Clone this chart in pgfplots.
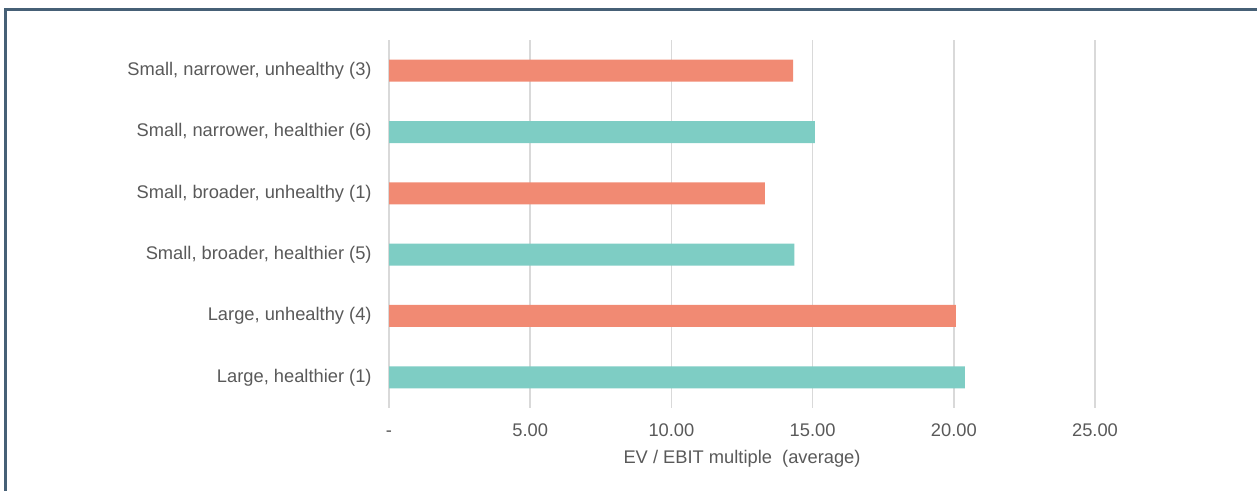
\documentclass[border=0pt]{standalone}
\usepackage{fontspec}
\setmainfont{Liberation Sans}
\usepackage{pgfplots}
\pgfplotsset{compat=1.18}
\definecolor{salmon}{RGB}{241,138,115}
\definecolor{teal2}{RGB}{126,205,196}
\definecolor{gridgray}{RGB}{217,217,217}
\definecolor{txtgray}{RGB}{89,89,89}
\definecolor{frame}{RGB}{70,96,118}
\begin{document}
\begin{tikzpicture}
\useasboundingbox (0,0) rectangle (628.5pt,245.5pt);
\draw[frame, line width=1.4pt] (2.75pt,-1pt) -- (2.75pt,240.65pt) -- (630pt,240.65pt);
\begin{axis}[
  at={(194.5pt,41.5pt)}, anchor=south west,
  scale only axis, width=353pt, height=184pt,
  xmin=0, xmax=25, ymin=-0.5, ymax=5.5,
  xbar, bar width=11pt, bar shift=0pt,
  axis line style={draw=none},
  major tick length=0pt,
  xtick={0,5,10,15,20,25},
  xticklabels={-\hspace{6pt},5.00,10.00,15.00,20.00,25.00},
  ytick={0,1,2,3,4,5},
  yticklabels={{Large, healthier (1)},{Large, unhealthy (4)},{Small, broader, healthier (5)},{Small, broader, unhealthy (1)},{Small, narrower, healthier (6)},{Small, narrower, unhealthy (3)}},
  xmajorgrids, ymajorgrids=false,
  major grid style={color=gridgray, line width=0.8pt},
  tick label style={font=\fontsize{9.15}{10}\selectfont, text=txtgray},
  y tick label style={anchor=east, inner sep=0pt, xshift=-8.5pt},
  x tick label style={anchor=north, inner sep=0pt, text height=6.6pt, text depth=0pt, yshift=-7.5pt},
  xlabel={EV / EBIT multiple\ \ (average)},
  xlabel style={at={(rel axis cs:0.5,0)}, anchor=north, inner sep=0pt, yshift=-21pt, font=\fontsize{9.15}{10}\selectfont, text=txtgray},
]
\addplot[fill=teal2, draw=none] coordinates {(20.39,0) (14.35,2) (15.08,4)};
\addplot[fill=salmon, draw=none] coordinates {(20.07,1) (13.31,3) (14.31,5)};
\end{axis}
\end{tikzpicture}
\end{document}
